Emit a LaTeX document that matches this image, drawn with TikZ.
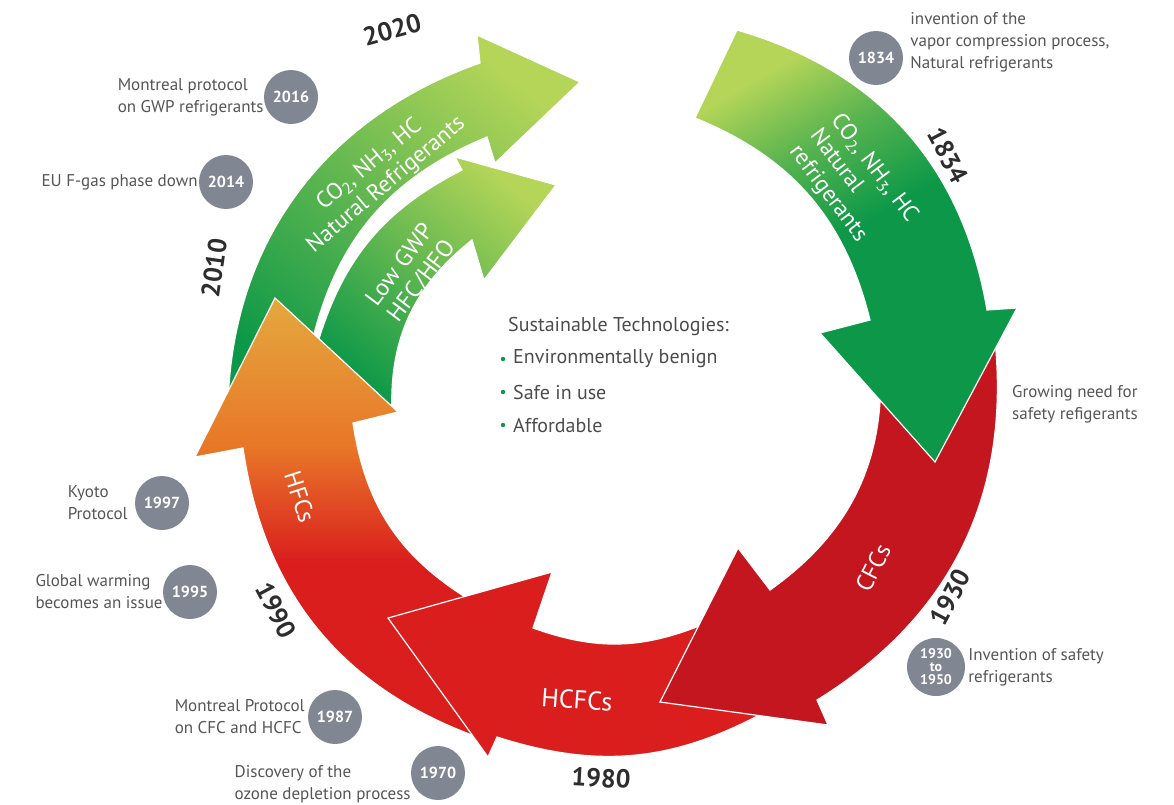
\documentclass[tikz,border=0pt]{standalone}
\usepackage{fontspec}
\setmainfont{PT Sans}
\usetikzlibrary{positioning}
\definecolor{verde}{RGB}{12,152,72}
\definecolor{verdec}{RGB}{180,213,88}
\definecolor{rojo}{RGB}{218,30,30}
\definecolor{rojof}{RGB}{196,22,30}
\definecolor{naranja}{RGB}{232,118,40}
\definecolor{ambar}{RGB}{228,168,62}
\definecolor{grisc}{RGB}{128,134,146}
\definecolor{grisf}{RGB}{85,85,85}
\definecolor{tinta}{RGB}{45,45,45}
\pgfdeclareverticalshading{hfcsombra}{100bp}{color(0bp)=(rojo); color(25bp)=(rojo);
  color(45bp)=(rojo); color(58bp)=(naranja); color(75bp)=(ambar); color(100bp)=(ambar)}
\pgfdeclareverticalshading{verdesombra}{100bp}{color(0bp)=(verde); color(25bp)=(verde);
  color(52bp)=(verde); color(64bp)=(verde!55!verdec); color(75bp)=(verdec); color(100bp)=(verdec)}
\tikzset{
  flecha/.style={draw=white, line width=1.2pt},
  hito/.style={circle, fill=grisc, text=white, font=\fontsize{16}{16}\selectfont\bfseries,
    minimum size=54pt, inner sep=0pt, align=center},
  nota/.style={text=grisf, font=\fontsize{17}{22}\selectfont, align=left, inner sep=0pt},
  anio/.style={text=tinta, font=\fontsize{26}{26}\selectfont\bfseries, inner sep=0pt},
  rot/.style={text=white, font=\fontsize{23}{26}\selectfont, align=left, inner sep=0pt},
  lista/.style={text=tinta!85!white, font=\fontsize{20}{24}\selectfont, anchor=west, inner sep=0pt},
}
\begin{document}
\begin{tikzpicture}[x=1pt, y=1pt]
  \useasboundingbox (0,0) rectangle (1174,-804);
  % green, 2010 -> 2020
  \path[flecha, top color=verdec, bottom color=verde, shading angle=-40]
    (228,-428) to[bend left=36] (480,-63) -- (477,-35) -- (580,-82) -- (495,-163)
    -- (487,-137) to[bend right=27] (312,-342) -- cycle;
  \path[flecha, top color=verdec, bottom color=verde, shading angle=-40]
    (318,-342) to[bend left=23] (462,-170) -- (455,-157) -- (556,-185) -- (484,-280)
    -- (472,-240) to[bend right=27] (392,-414) -- cycle;
  % HFCs
  \path[flecha, shading=hfcsombra]
    (480,-738) to[bend left=31] (243,-448) -- (195,-457) -- (275,-298) -- (398,-412)
    -- (353,-423) to[bend right=25] (470,-600) -- cycle;
  % HCFCs
  \path[flecha, fill=rojo]
    (765,-712) to[bend left=23] (497,-737) -- (488,-757) -- (388,-618) -- (552,-572)
    -- (533,-628) to[bend right=21] (704,-624) -- cycle;
  % CFCs
  \path[flecha, fill=rojof]
    (995,-340) to[bend left=32] (817,-700) -- (828,-725) -- (660,-702) -- (738,-548)
    -- (770,-590) to[bend right=29] (880,-360) -- cycle;
  % green, 1834
  \path[flecha, shading=verdesombra, shading angle=30]
    (737,-30) to[bend left=32] (987,-310) -- (1017,-308) -- (935,-462) -- (820,-333)
    -- (870,-320) to[bend right=27] (695,-118) -- cycle;

  % labels on the ring
  \node[rot, rotate=-53] (tg1) at (853,-184) {CO\textsubscript{2}, NH\textsubscript{3}, HC\\Natural\\refrigerants};
  \node[rot, rotate=40, align=center] (tgl1) at (378,-175) {CO\textsubscript{2}, NH\textsubscript{3}, HC\\Natural Refrigerants};
  \node[rot, rotate=53, font=\fontsize{24}{27}\selectfont] (tgl2) at (411,-273) {Low GWP\\HFC/HFO};
  \node[rot, rotate=-72, font=\fontsize{24}{24}\selectfont] (thfc) at (300,-497) {HFCs};
  \node[rot, rotate=-4, font=\fontsize{26}{26}\selectfont] (thcfc) at (577,-700) {HCFCs};
  \node[rot, rotate=63, font=\fontsize{24}{24}\selectfont] (tcfc) at (873,-568) {CFCs};

  \node[anio, rotate=15] (y2020) at (392,-30) {2020};
  \node[anio, rotate=82] (y2010) at (214,-268) {2010};
  \node[anio, rotate=-62] (y1834) at (948,-155) {1834};
  \node[anio, rotate=62] (y1930) at (950,-597) {1930};
  \node[anio, rotate=-3] (y1980) at (601,-778) {1980};
  \node[anio, rotate=-62] (y1990) at (276,-610) {1990};

  % milestones
  \node[hito] (c2016) at (291,-97) {2016};
  \node[nota, left=0pt of c2016] (n2016) {Montreal protocol\\on GWP refrigerants};
  \node[hito] (c2014) at (226,-182) {2014};
  \node[nota, left=1pt of c2014] (n2014) {EU F-gas phase down};
  \node[hito] (c1834) at (876,-58) {1834};
  \node[nota, right=7pt of c1834, yshift=16pt] (n1834) {invention of the\\vapor compression process,\\Natural refrigerants};
  \node[nota, anchor=west] (nsafe) at (1012,-404) {Growing need for\\safety refigerants};
  \node[hito, font=\fontsize{14}{13}\selectfont\bfseries, minimum size=58pt] (c1930) at (936,-667) {1930\\to\\1950};
  \node[nota, right=3pt of c1930] (n1930) {Invention of safety\\refrigerants};
  \node[hito] (c1997) at (162,-503) {1997};
  \node[nota, left=7pt of c1997] (n1997) {Kyoto\\Protocol};
  \node[hito] (c1995) at (190,-592) {1995};
  \node[nota, left=0pt of c1995] (n1995) {Global warming\\becomes an issue};
  \node[hito] (c1987) at (335,-717) {1987};
  \node[nota, left=3pt of c1987] (n1987) {Montreal Protocol\\on CFC and HCFC};
  \node[hito] (c1970) at (438,-773) {1970};
  \node[nota, left=0pt of c1970, yshift=-11pt] (n1970) {Discovery of the\\ozone depletion process};

  % centre
  \node[lista] (titulo) at (508,-326) {Sustainable Technologies:};
  \foreach \t [count=\i] in {Environmentally benign, Safe in use, Affordable} {
    \node[lista] (punto\i) at (513,{-326-33*\i}) {\t};
    \fill[verde] ([xshift=-10pt]punto\i.west) circle (2.2);
  }
\end{tikzpicture}
\end{document}
